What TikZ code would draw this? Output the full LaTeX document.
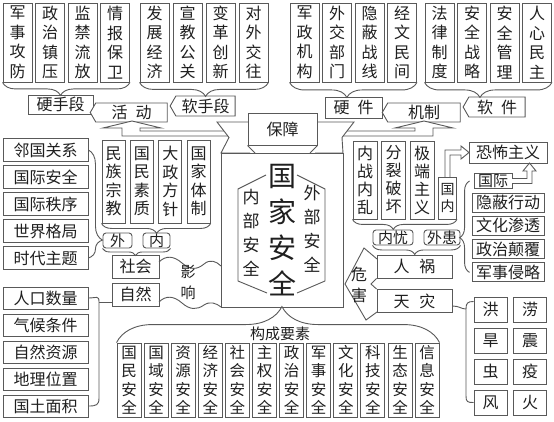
\documentclass[tikz,border=0pt]{standalone}
\usepackage{fontspec}
\setmainfont{Noto Sans CJK SC}
\usetikzlibrary{decorations.pathreplacing,shapes.symbols}

\newcommand{\fz}[2]{\fontsize{#1}{#2}\selectfont}
\definecolor{inkline}{gray}{0.35}
\definecolor{inktext}{gray}{0.12}

\tikzset{
  ln/.style={draw=inkline, line width=0.9pt},
  box/.style={ln, rectangle, fill=white, inner sep=0pt, text=inktext, font=\fz{16}{19}},
  col/.style n args={2}{box, align=center, minimum width=#1, minimum height=#2},
  row/.style={box, minimum width=85pt, minimum height=23pt},
  tag/.style={box, rounded corners=3pt, minimum height=15pt, font=\fz{15}{15}},
  flag/.style={box, signal, signal to=west, signal pointer angle=120},
  brc/.style n args={2}{ln, decorate, decoration={brace, amplitude=#1, aspect=#2}},
  link/.style={ln},
  blk/.style={ln, fill=white},
  word/.style={text=inktext, inner sep=0pt, align=center},
}

\begin{document}
\begin{tikzpicture}[x=1pt, y=-1pt]
\fill[white] (0,0) rectangle (554,422);
\useasboundingbox (0,0) rectangle (554,422);

% top left: hard and soft means of action
\foreach \t [count=\i] in {{军\\事\\攻\\防},{政\\治\\镇\\压},{监\\禁\\流\\放},{情\\报\\保\\卫}}
  \node[col={29pt}{79pt}, font=\fz{16}{19.5}] (hm\i) at ({17.5+(\i-1)*32.5},42.5) {\t};
\foreach \t [count=\i] in {{发\\展\\经\\济},{宣\\教\\公\\关},{变\\革\\创\\新},{对\\外\\交\\往}}
  \node[col={29pt}{79pt}, font=\fz{16}{19.5}] (sm\i) at ({154.5+(\i-1)*33},42.5) {\t};
% top right: hardware and software of the mechanism
\foreach \t [count=\i] in {{军\\政\\机\\构},{外\\交\\部\\门},{隐\\蔽\\战\\线},{经\\文\\民\\间}}
  \node[col={29pt}{79pt}, font=\fz{16}{19.5}] (hw\i) at ({304.5+(\i-1)*32.5},42.5) {\t};
\foreach \t [count=\i] in {{法\\律\\制\\度},{安\\全\\战\\略},{安\\全\\管\\理},{人\\心\\民\\主}}
  \node[col={29pt}{79pt}, font=\fz{16}{19.5}] (sw\i) at ({439.5+(\i-1)*32.5},42.5) {\t};

\node[box, minimum width=65pt, minimum height=19pt] (hardm) at (60.5,104.5) {硬手段};
\node[flag, minimum width=65pt, minimum height=20pt] (softm) at (205.5,106) {软手段};
\node[flag, minimum width=77pt, minimum height=19pt] (act) at (131.5,112.5) {活\hspace{.5em}动};
\node[box, minimum width=57pt, minimum height=21pt] (hardw) at (353.5,107.5) {硬\hspace{.5em}件};
\node[flag, minimum width=78pt, minimum height=19pt] (mech) at (424,112.5) {机制};
\node[flag, minimum width=62pt, minimum height=20pt] (softw) at (497,107) {软\hspace{.5em}件};

\draw[brc={13pt}{0.545}] (hm4.south east) -- (hm1.south west);
\draw[brc={14pt}{0.488}] (sm4.south east) -- (sm1.south west);
\draw[brc={15pt}{0.55}] (hw4.south east) -- (hw1.south west);
\draw[brc={15pt}{0.565}] (sw4.south east) -- (sw1.south west);

% centre: national security
\node[box, minimum width=122pt, minimum height=154pt] (nsec) at (282,230) {};
% bent arrows up to the two banners
\draw[blk] (232,131) -- (140,131) -- (140,128) -- (161,128) -- (132,121) -- (103,128)
  -- (122,128) -- (122,136) -- (232,136);
\draw[blk] (336,131) -- (415,131) -- (415,128) -- (395,128) -- (424,121) -- (453,128)
  -- (433,128) -- (433,136) -- (336,136);
% ribbon
\draw[blk] (250,122) -- (217,122) -- (229,137.5) -- (221,153) -- (250,153);
\draw[blk] (315,122) -- (354,122) -- (342,137.5) -- (343,153) -- (315,153);
\node[box, minimum width=69pt, minimum height=32pt] (guar) at (282.5,129) {保障};
\draw[ln] (guar.south west) -- (255,153);
\draw[ln] (guar.south east) -- (310,153);

\node[word, font=\fz{28}{36}] (title) at (282,230) {国\\家\\安\\全};
\node[word, font=\fz{17}{24}] (inner) at (251,233) {内\\部\\安\\全};
\node[word, font=\fz{17}{24}] (outer) at (312,229) {外\\部\\安\\全};
\draw[ln] (266,175) -- (238,189) -- (238,281) -- (267,293);
\draw[ln] (297,175) -- (325,189) -- (325,281) -- (297,293);

% left: social and natural influence
\foreach \t [count=\i] in {邻国关系,国际安全,国际秩序,世界格局,时代主题}
  \node[row] (wl\i) at (45.5,{150+(\i-1)*27}) {\t};
\foreach \t [count=\i] in {{民\\族\\宗\\教},{国\\民\\素\\质},{大\\政\\方\\针},{国\\家\\体\\制}}
  \node[col={23pt}{83pt}, font=\fz{16}{18.5}] (nl\i) at ({113.5+(\i-1)*28.4},181.5) {\t};
\node[tag, minimum width=29pt] (wai) at (117.5,240.5) {外};
\node[tag, minimum width=27pt] (nei) at (156.5,240.5) {内};
\node[box, minimum width=47pt, minimum height=23pt] (soc) at (135.5,266.5) {社会};
\node[box, minimum width=47pt, minimum height=23pt] (nat) at (135.5,294.5) {自然};
\foreach \t [count=\i] in {人口数量,气候条件,自然资源,地理位置,国土面积}
  \node[row, minimum height=22pt] (nf\i) at (45.5,{298+(\i-1)*27}) {\t};

\draw[brc={14pt}{0.834}] (wl1.east) -- (wl5.east);
\draw[brc={10pt}{0.495}] (nl4.south east) -- (nl1.south west);
\draw[brc={7pt}{0.515}] (nei.south east) -- (wai.south west);
\coordinate (nfj) at (99,302);
\coordinate (nfk) at (99,398);
\draw[link] (nf1.east) .. controls +(8,0) and +(0,-7) .. (nfj) -- (nfk)
  .. controls +(0,7) and +(8,0) .. (nf5.east);
\draw[link] (nfj) -- (nat.west |- nfj);

% influence band
\draw[link] (159,262) .. controls (166,255) and (174,256) .. (182,263)
  .. controls (190,270) and (197,270) .. (204,264) .. controls (210,259) and (216,261) .. (221,266);
\draw[link] (159,302) .. controls (166,295) and (174,296) .. (182,303)
  .. controls (190,310) and (197,310) .. (204,305) .. controls (210,301) and (216,303) .. (221,307);
\node[word, font=\fz{15}{21}] (infl) at (188,282.5) {影\\响};

% right: threats
\foreach \t [count=\i] in {{内\\战\\内\\乱},{分\\裂\\破\\坏},{极\\端\\主\\义}}
  \node[col={24pt}{78pt}, font=\fz{16}{18}] (ws\i) at ({365+(\i-1)*28.5},180) {\t};
\node[col={18pt}{42pt}, font=\fz{14}{17}] (dom) at (447.5,198) {国\\内};
\draw[brc={10pt}{0.61}] (dom.south east) -- (ws1.south west);
\node[tag, minimum width=40pt] (neiyou) at (393,237.5) {内忧};
\node[tag, minimum width=36pt] (waihuan) at (442,237.5) {外患};
\draw[brc={9pt}{0.52}] (waihuan.south east) -- (neiyou.south west);
\node[box, minimum width=75pt, minimum height=23pt] (renhuo) at (414.5,266.5) {人\hspace{.6em}祸};
\node[box, minimum width=75pt, minimum height=23pt] (tianzai) at (414.5,301) {天\hspace{.6em}灾};

% harm chevron
\draw[ln] (377,259) -- (364,248) -- (345,284) -- (366,320) -- (377,312);
\draw[ln] (renhuo.south west) -- (371,284) -- (tianzai.north west);
\node[word, font=\fz{16}{21}] (harm) at (359,284.5) {危\\害};

\node[box, minimum width=78pt, minimum height=21pt] (terr) at (508,152.5) {恐怖主义};
\node[box, minimum width=38pt, minimum height=15pt, font=\fz{15}{15}] (intl) at (493,181) {国际};
\foreach \t [count=\i] in {隐蔽行动,文化渗透,政治颠覆,军事侵略}
  \node[box, minimum width=72pt, minimum height=19pt] (ext\i) at (508,{202.5+(\i-1)*23.3}) {\t};
\draw[brc={10pt}{0.38}] ([xshift=-2pt]ext4.west) -- ([xshift=-2pt]ext1.west |- intl.west);
% hollow arrows into terrorism
\draw[blk] (445,177) -- (445,150) -- (461,150) -- (461,146) -- (469,152.5) -- (461,159)
  -- (461,155) -- (450,155) -- (450,177);
\draw[blk] (512,178.5) -- (527,178.5) -- (527,171) -- (523,171) -- (529.5,163) -- (536,171)
  -- (532,171) -- (532,183.5) -- (512,183.5);

% natural disasters
\foreach \a/\b [count=\i] in {洪/涝,旱/震,虫/疫,风/火} {
  \node[box, minimum width=33pt, minimum height=25pt] (dl\i) at (490.5,{309.5+(\i-1)*31}) {\a};
  \node[box, minimum width=33pt, minimum height=25pt] (dr\i) at (530,{309.5+(\i-1)*31}) {\b};
}
\coordinate (dzj) at (466,309);
\coordinate (dzk) at (466,396);
\draw[link] ([yshift=8pt]dl1.west) .. controls +(-6,0) and +(0,-6) .. (dzj) -- (dzk)
  .. controls +(0,6) and +(-6,0) .. (dl4.west);
\draw[link] ([yshift=-5pt]tianzai.east) .. controls +(7,0) and +(-5,0) .. (dzj);

% bottom: constituent elements
\foreach \t [count=\i] in {{国\\民\\安\\全},{国\\域\\安\\全},{资\\源\\安\\全},{经\\济\\安\\全},{社\\会\\安\\全},{主\\权\\安\\全},{政\\治\\安\\全},{军\\事\\安\\全},{文\\化\\安\\全},{科\\技\\安\\全},{生\\态\\安\\全},{信\\息\\安\\全}}
  \node[col={24pt}{74pt}, font=\fz{15.5}{18.5}] (el\i) at ({129+(\i-1)*27.1},380) {\t};
\draw[brc={36pt}{0.512}] (el1.north west) -- (el12.north east);
\node[word, font=\fz{15}{15}] (elem) at (280,334) {构成要素};
\end{tikzpicture}
\end{document}
